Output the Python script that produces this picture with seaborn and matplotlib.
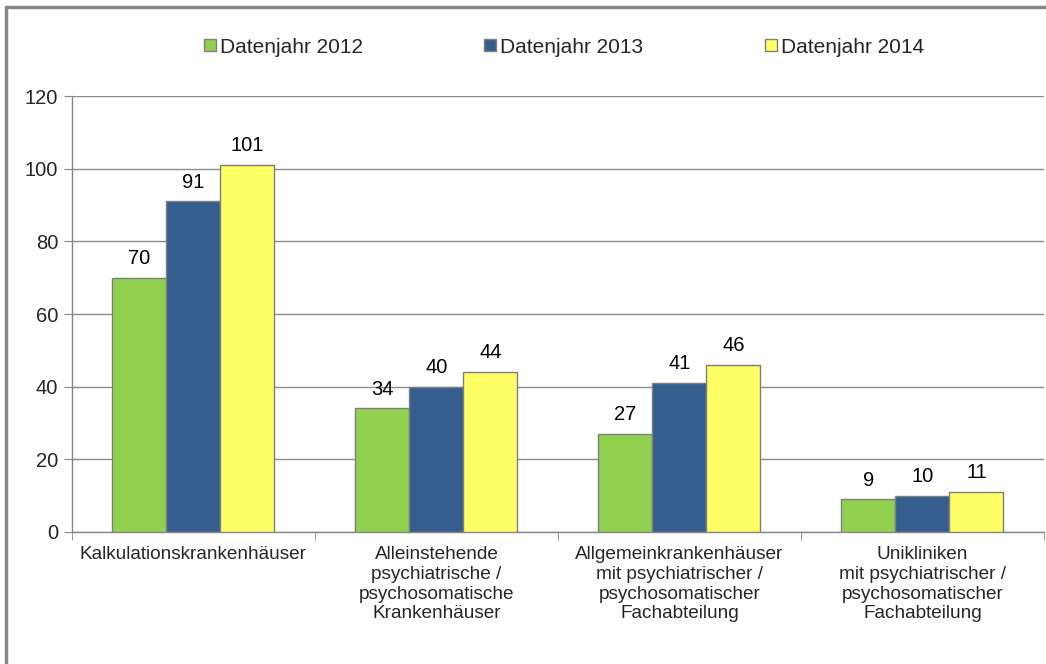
import pandas as pd
import numpy as np
import matplotlib.pyplot as plt
import seaborn as sns
from matplotlib.lines import Line2D

# Data
categories = ['Kalkulationskrankenhäuser',
              'Alleinstehende\npsychiatrische /\npsychosomatische\nKrankenhäuser',
              'Allgemeinkrankenhäuser\nmit psychiatrischer /\npsychosomatischer\nFachabteilung',
              'Unikliniken\nmit psychiatrischer /\npsychosomatischer\nFachabteilung']
years = ['Datenjahr 2012', 'Datenjahr 2013', 'Datenjahr 2014']
values_2012 = [70, 34, 27, 9]
values_2013 = [91, 40, 41, 10]
values_2014 = [101, 44, 46, 11]
colors = ['#92D050', '#355E8E', '#FFFF66']

df = pd.DataFrame({
    'kategorie': categories * 3,
    'jahr': [years[0]] * 4 + [years[1]] * 4 + [years[2]] * 4,
    'anzahl': values_2012 + values_2013 + values_2014
})

sns.set_style('white')
plt.rcParams['font.family'] = ['Liberation Sans', 'DejaVu Sans']

fig = plt.figure(figsize=(10.46, 6.64), dpi=100)
ax = fig.add_axes([0.0688, 0.1988, 0.9292, 0.6566])

sns.barplot(
    data=df,
    x='kategorie',
    y='anzahl',
    hue='jahr',
    palette=colors,
    width=0.667,
    edgecolor='#7F7F7F',
    linewidth=1,
    saturation=1,
    ax=ax,
    legend=False,
    zorder=3
)

for cont in ax.containers:
    ax.bar_label(cont, padding=7, fontsize=14.5, color='black')

ax.set_ylim(0, 120)
ax.set_yticks(range(0, 121, 20))
ax.set_xlim(-0.5, 3.5)
ax.yaxis.grid(True, color='#8C8C8C', linewidth=1, zorder=0)
ax.set_axisbelow(True)

for s in ['top', 'right']:
    ax.spines[s].set_visible(False)
for s in ['left', 'bottom']:
    ax.spines[s].set_color('#868686')
    ax.spines[s].set_linewidth(1)

ax.tick_params(axis='y', length=6, color='#868686', labelsize=14.5, pad=4, left=True)
ax.tick_params(axis='x', which='major', length=0, labelsize=13.7, pad=10)
ax.set_xticks(np.arange(-0.5, 4, 1), minor=True)
ax.tick_params(axis='x', which='minor', length=6, color='#868686', bottom=True)
ax.set_xticks(range(4))
ax.set_xticklabels(categories, linespacing=1.22)
ax.set_xlabel(None)
ax.set_ylabel(None)

handles = [Line2D([], [], marker='s', linestyle='none', markersize=9,
                  markerfacecolor=c, markeredgecolor='#7F7F7F') for c in colors]
fig.legend(handles, years, loc='center', bbox_to_anchor=(0.537, 0.929), ncol=3,
           frameon=False, fontsize=15, handletextpad=0.0, columnspacing=5.6,
           handlelength=1.0)

# outer frame (top and left edges visible in the picture)
fig.add_artist(Line2D([0.0057, 1.0], [0.9895, 0.9895], transform=fig.transFigure,
                      color='#888888', linewidth=2.5))
fig.add_artist(Line2D([0.0057, 0.0057], [0.0, 0.9895], transform=fig.transFigure,
                      color='#888888', linewidth=2.5))

fig.savefig('out.png', dpi=100)
